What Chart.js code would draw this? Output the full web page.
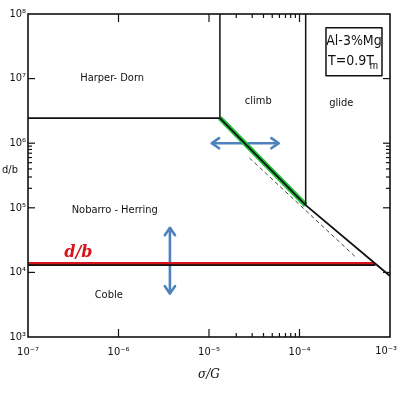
<!DOCTYPE html>
<html>
<head>
<meta charset="utf-8">
<script src="https://cdn.jsdelivr.net/npm/chart.js@4"></script>
<style>
  body { margin: 0; background: #fff; }
  canvas { display: block; }
</style>
</head>
<body>
<canvas id="map" width="398" height="394"></canvas>
<script>
// axis decades
const xDecades = [1e-7, 1e-6, 1e-5, 1e-4, 1e-3];
const yDecades = [1e3, 1e4, 1e5, 1e6, 1e7, 1e8];
const xLabels = ['10\u207B\u2077', '10\u207B\u2076', '10\u207B\u2075', '10\u207B\u2074', '10\u207B\u00B3'];
const yLabels = ['10\u00B3', '10\u2074', '10\u2075', '10\u2076', '10\u2077', '10\u2078'];

// boundaries (sigma/G , d/b)
const hdX = [1e-7, 1.32e-5];
const hdY = [2.45e6, 2.45e6];
const climbWallX = [1.32e-5, 1.32e-5];
const climbWallY = [2.45e6, 1e8];
const glideWallX = [1.17e-4, 1.17e-4];
const glideWallY = [1.1e5, 1e8];
const diagX = [1.32e-5, 1.17e-4, 1e-3];
const diagY = [2.45e6, 1.1e5, 8.8e3];
const dashX = [2.8e-5, 4.3e-4];
const dashY = [5.9e5, 1.66e4];
const cobleX = [1e-7, 6.9e-4];
const cobleY = [1.3e4, 1.3e4];
const greenX = [1.32e-5, 1.17e-4];
const greenY = [2.45e6, 1.1e5];
const redX = [1e-7, 6.8e-4];
const redY = [1.35e4, 1.35e4];
const arrowHX = [1.07e-5, 5.9e-5];
const arrowHY = [1e6, 1e6];
const arrowVX = [3.7e-6, 3.7e-6];
const arrowVY = [4.9e4, 4.7e3];

// region labels
const regionNames = ['Harper- Dorn', 'climb', 'glide', 'Nobarro - Herring', 'Coble'];
const regionX = [8.5e-7, 3.5e-5, 2.9e-4, 9.1e-7, 7.8e-7];
const regionY = [1e7, 4.5e6, 4.2e6, 9.3e4, 4.5e3];

// tick marks drawn inward
const leftTicks = [1e4, 1e5, 2e5, 3e5, 4e5, 5e5, 6e5, 7e5, 8e5, 9e5, 1e6, 1e7];
const rightTicks = [1e4, 1e5, 2e5, 3e5, 4e5, 5e5, 6e5, 7e5, 8e5, 9e5, 1e6, 1e7];
const topTicks = [1e-6, 1e-5, 2e-5, 3e-5, 4e-5, 5e-5, 6e-5, 7e-5, 8e-5, 9e-5, 1e-4];
const bottomTicks = [1e-6, 1e-5, 2e-5, 3e-5, 4e-5, 5e-5, 6e-5, 7e-5, 8e-5, 9e-5, 1e-4];

function pts(xs, ys) {
    return xs.map((x, i) => ({ x: x, y: ys[i] }));
}

function seg(xs, ys, color, width, dash) {
    return {
        data: pts(xs, ys),
        showLine: true,
        borderColor: color,
        borderWidth: width,
        borderDash: dash || [],
        pointRadius: 0,
        fill: false
    };
}

const ink = '#111';
const blue = '#4f81bd';
const tickFont = '11px "DejaVu Sans Condensed", sans-serif';

const decorPlugin = {
    id: 'decor',
    afterDatasetsDraw(chart) {
        const ctx = chart.ctx;
        const a = chart.chartArea;
        const xs = chart.scales.x;
        const ys = chart.scales.y;
        ctx.save();

        // frame
        ctx.strokeStyle = ink;
        ctx.lineWidth = 1.6;
        ctx.strokeRect(a.left, a.top, a.right - a.left, a.bottom - a.top);

        // inward ticks
        ctx.lineWidth = 1.2;
        const isMajor = v => Math.abs(Math.log10(v) - Math.round(Math.log10(v))) < 1e-6;
        leftTicks.forEach(v => {
            const p = ys.getPixelForValue(v), l = isMajor(v) ? 7 : 4;
            ctx.beginPath(); ctx.moveTo(a.left, p); ctx.lineTo(a.left + l, p); ctx.stroke();
        });
        rightTicks.forEach(v => {
            const p = ys.getPixelForValue(v), l = isMajor(v) ? 7 : 4;
            ctx.beginPath(); ctx.moveTo(a.right, p); ctx.lineTo(a.right - l, p); ctx.stroke();
        });
        topTicks.forEach(v => {
            const p = xs.getPixelForValue(v), l = isMajor(v) ? 8 : 4;
            ctx.beginPath(); ctx.moveTo(p, a.top); ctx.lineTo(p, a.top + l); ctx.stroke();
        });
        bottomTicks.forEach(v => {
            const p = xs.getPixelForValue(v), l = isMajor(v) ? 8 : 4;
            ctx.beginPath(); ctx.moveTo(p, a.bottom); ctx.lineTo(p, a.bottom - l); ctx.stroke();
        });

        // last x tick label, kept inside the canvas
        ctx.fillStyle = ink;
        ctx.font = tickFont;
        ctx.textAlign = 'right';
        ctx.textBaseline = 'top';
        ctx.fillText(xLabels[xLabels.length - 1], chart.width - 1, a.bottom + 9);

        // arrow heads
        ctx.strokeStyle = blue;
        ctx.lineWidth = 2.6;
        ctx.lineCap = 'round';
        ctx.lineJoin = 'round';
        function head(x0, y0, x1, y1) {
            const ang = Math.atan2(y1 - y0, x1 - x0), s = 9;
            ctx.beginPath();
            ctx.moveTo(x1 - s * Math.cos(ang - 0.6), y1 - s * Math.sin(ang - 0.6));
            ctx.lineTo(x1, y1);
            ctx.lineTo(x1 - s * Math.cos(ang + 0.6), y1 - s * Math.sin(ang + 0.6));
            ctx.stroke();
        }
        const hx0 = xs.getPixelForValue(arrowHX[0]), hx1 = xs.getPixelForValue(arrowHX[1]);
        const hy = ys.getPixelForValue(arrowHY[0]);
        head(hx1, hy, hx0, hy); head(hx0, hy, hx1, hy);
        const vx = xs.getPixelForValue(arrowVX[0]);
        const vy0 = ys.getPixelForValue(arrowVY[0]), vy1 = ys.getPixelForValue(arrowVY[1]);
        head(vx, vy1, vx, vy0); head(vx, vy0, vx, vy1);

        // region labels
        ctx.fillStyle = ink;
        ctx.font = '11px "DejaVu Sans Condensed", "Liberation Sans", sans-serif';
        ctx.textAlign = 'center';
        ctx.textBaseline = 'middle';
        regionNames.forEach((t, i) => {
            ctx.fillText(t, xs.getPixelForValue(regionX[i]), ys.getPixelForValue(regionY[i]));
        });

        // red d/b tag
        ctx.fillStyle = '#d7141c';
        ctx.font = 'italic bold 16px "DejaVu Serif", serif';
        ctx.fillText('d/b', xs.getPixelForValue(3.6e-7), ys.getPixelForValue(2e4));

        // alloy box
        const bx = xs.getPixelForValue(4e-4), by = ys.getPixelForValue(2.6e7);
        ctx.strokeStyle = ink;
        ctx.lineWidth = 1.5;
        ctx.strokeRect(bx - 28, by - 24, 56, 48);
        ctx.fillStyle = ink;
        ctx.font = '14px "Liberation Sans Narrow", "DejaVu Sans Condensed", sans-serif';
        ctx.fillText('Al-3%Mg', bx, by - 10);
        ctx.fillText('T=0.9T', bx - 3, by + 10);
        ctx.font = '10px "Liberation Sans Narrow", sans-serif';
        ctx.fillText('m', bx + 20, by + 14);

        // axis titles
        ctx.font = '11px "DejaVu Sans Condensed", sans-serif';
        ctx.fillText('d/b', 10, ys.getPixelForValue(3.85e5));
        ctx.font = 'italic 12px "DejaVu Serif", serif';
        ctx.fillText('\u03C3/G', (a.left + a.right) / 2, a.bottom + 38);
        ctx.restore();
    }
};

new Chart(document.getElementById('map'), {
    type: 'scatter',
    data: {
        datasets: [
            seg(hdX, hdY, ink, 1.8),
            seg(climbWallX, climbWallY, ink, 1.5),
            seg(glideWallX, glideWallY, ink, 1.5),
            seg(diagX, diagY, ink, 1.8),
            seg(dashX, dashY, '#444', 1, [4, 3]),
            seg(cobleX, cobleY, ink, 1.8),
            seg(greenX, greenY, '#1fc23b', 5),
            seg(redX, redY, '#d7141c', 4),
            seg(arrowHX, arrowHY, blue, 2.6),
            seg(arrowVX, arrowVY, blue, 2.6)
        ]
    },
    options: {
        responsive: false,
        animation: false,
        layout: { padding: { top: 14, right: 8, left: 0, bottom: 0 } },
        plugins: { legend: { display: false }, tooltip: { enabled: false } },
        scales: {
            x: {
                type: 'logarithmic',
                min: 1e-7,
                max: 1e-3,
                afterBuildTicks: s => { s.ticks = xDecades.map(v => ({ value: v })); },
                afterFit: s => { s.height = 57; s.paddingLeft = 0; s.paddingRight = 0; },
                grid: { display: false, drawTicks: false },
                border: { display: false },
                ticks: {
                    padding: 9,
                    color: ink,
                    maxRotation: 0,
                    autoSkip: false,
                    font: { family: 'DejaVu Sans Condensed', size: 11 },
                    // the last label is drawn by the plugin so it is not cut off
                    callback: (v, i) => i === xDecades.length - 1 ? '' :
                        xLabels[xDecades.findIndex(d => Math.abs(d - v) / d < 1e-6)]
                }
            },
            y: {
                type: 'logarithmic',
                min: 1e3,
                max: 1e8,
                afterBuildTicks: s => { s.ticks = yDecades.map(v => ({ value: v })); },
                afterFit: s => { s.width = 28; s.paddingTop = 0; s.paddingBottom = 0; },
                grid: { display: false, drawTicks: false },
                border: { display: false },
                ticks: {
                    padding: 2,
                    color: ink,
                    autoSkip: false,
                    font: { family: 'DejaVu Sans Condensed', size: 11 },
                    callback: v => yLabels[yDecades.findIndex(d => Math.abs(d - v) / d < 1e-6)]
                }
            }
        }
    },
    plugins: [decorPlugin]
});
</script>
</body>
</html>
